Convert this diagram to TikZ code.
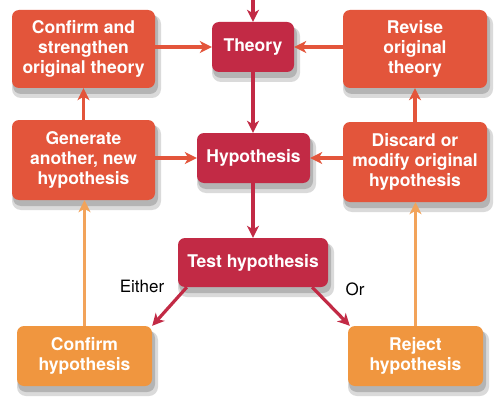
\documentclass[tikz,border=0pt]{standalone}
\usepackage{fontspec}
\setmainfont{TeX Gyre Heros}
\usetikzlibrary{arrows.meta,calc}
\definecolor{crim}{HTML}{C22A45}
\definecolor{redor}{HTML}{E3553B}
\definecolor{orng}{HTML}{F0963F}
\definecolor{orarrow}{HTML}{F2A35A}
\definecolor{shadowgray}{HTML}{B4B4B4}
\definecolor{shadowlight}{HTML}{DADADA}
\begin{document}
\begin{tikzpicture}[x=1pt,y=-1pt,
  box/.style={rounded corners=7pt, text=white, align=center, inner sep=0pt,
    font=\fontsize{17.5}{20}\selectfont\bfseries},
  crimbox/.style={box, fill=crim},
  redbox/.style={box, fill=redor},
  orbox/.style={box, fill=orng},
  shadowbox/.style={rounded corners=8pt, inner sep=0pt},
  arr/.style={line width=3.2pt, -{Stealth[length=12pt,width=12pt,inset=3.5pt]}},
  crimarr/.style={arr, draw=crim},
  redarr/.style={arr, draw=redor},
  orarr/.style={arr, draw=orarrow},
  lbl/.style={font=\fontsize{17}{20}\selectfont, text=black}
]
\fill[white] (0,0) rectangle (500,409);
\useasboundingbox (0,0) rectangle (500,409);

% shadows (drawn first, below the boxes)
\foreach \cx/\cy/\w/\h in {83.5/49/143/78, 253/47/82/50, 415/49/144/78,
    83.5/160/143/80, 253.5/158/113/50, 415/162/144/80, 253/262.5/150/49,
    84.5/356/135/60, 415.5/356/135/60}{
  \fill[shadowlight, rounded corners=9pt] (\cx-\w/2, \cy-\h/2+5) rectangle (\cx+\w/2+6, \cy+\h/2+10);
  \fill[shadowgray, rounded corners=8pt] (\cx-\w/2+1, \cy-\h/2+4) rectangle (\cx+\w/2+3, \cy+\h/2+6);
}

\node[redbox, minimum width=143pt, minimum height=78pt] (conft) at (83.5,49) {Confirm and\\strengthen\\original theory};
\node[crimbox, minimum width=82pt, minimum height=50pt] (theory) at (253,47) {Theory};
\node[redbox, minimum width=144pt, minimum height=78pt] (revise) at (415,49) {Revise\\original\\theory};
\node[redbox, minimum width=143pt, minimum height=80pt] (generate) at (83.5,160) {Generate\\another, new\\hypothesis};
\node[crimbox, minimum width=113pt, minimum height=50pt] (hyp) at (253.5,158) {Hypothesis};
\node[redbox, minimum width=144pt, minimum height=80pt] (discard) at (415,162) {Discard or\\modify original\\hypothesis};
\node[crimbox, minimum width=150pt, minimum height=49pt] (test) at (253,262.5) {Test hypothesis};
\node[orbox, minimum width=135pt, minimum height=60pt] (confh) at (84.5,356) {Confirm\\hypothesis};
\node[orbox, minimum width=135pt, minimum height=60pt] (reject) at (415.5,356) {Reject\\hypothesis};

\node[lbl] (either) at (142,286) {Either};
\node[lbl] (or) at (355,289) {Or};

\coordinate (top) at (253,0);

\draw[crimarr] (top) -- (theory.north);
\draw[crimarr] (theory.south) -- (theory.south |- hyp.north);
\draw[crimarr] (hyp.south -| test.north) -- (test.north);
\draw[crimarr] ([xshift=9pt]test.south west) -- (confh.north east);
\draw[crimarr] ([xshift=-16pt]test.south east) -- ([xshift=2pt]reject.north west);

\draw[redarr] (conft.east |- theory.west) -- (theory.west);
\draw[redarr] (revise.west |- theory.east) -- (theory.east);
\draw[redarr] (generate.east |- hyp.west) -- (hyp.west);
\draw[redarr] (discard.west |- hyp.east) -- (hyp.east);
\draw[redarr] (generate.north) -- (conft.south);
\draw[redarr] (discard.north) -- (revise.south);

\draw[orarr] (confh.north) -- (confh.north |- generate.south);
\draw[orarr] (reject.north) -- (reject.north |- discard.south);
\end{tikzpicture}
\end{document}
